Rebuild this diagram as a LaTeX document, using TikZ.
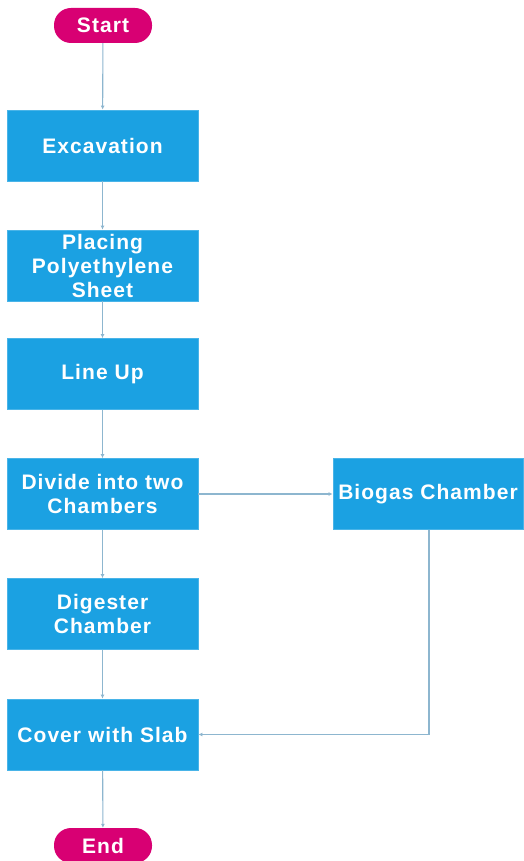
\documentclass[tikz,border=0pt]{standalone}
\usepackage{fontspec}
\setmainfont{Liberation Sans}
\usetikzlibrary{arrows.meta}
\definecolor{boxblue}{HTML}{1BA1E2}
\definecolor{pillpink}{HTML}{D80073}
\definecolor{linecol}{HTML}{8DB6CF}
\begin{document}
\begin{tikzpicture}[x=1pt,y=-1pt,
  stepbox/.style={fill=boxblue, draw=boxblue!80!white, line width=0.8pt, minimum width=191pt, minimum height=71pt, text=white, font=\fontsize{21}{24}\selectfont\bfseries\addfontfeature{LetterSpace=5}, align=center, inner sep=0pt},
  pill/.style={fill=pillpink, rounded corners=17pt, minimum width=98pt, minimum height=35pt, text=white, font=\fontsize{21}{24}\selectfont\bfseries\addfontfeature{LetterSpace=5}, inner sep=0pt},
  conn/.style={draw=linecol, line width=1.1pt, -{Latex[length=4pt,width=4pt]}}]
\useasboundingbox (0,0) rectangle (523,861);
\node[pill] (start) at (103,25.5) {Start};
\node[stepbox] (exc) at (102.5,145.5) {Excavation};
\node[stepbox] (place) at (102.5,265.5) {Placing\\Polyethylene\\Sheet};
\node[stepbox] (line) at (102.5,374) {Line Up};
\node[stepbox] (div) at (102.5,494) {Divide into two\\Chambers};
\node[stepbox, minimum width=190pt] (bio) at (428,494) {Biogas Chamber};
\node[stepbox] (dig) at (102.5,614) {Digester\\Chamber};
\node[stepbox] (cov) at (102.5,734.5) {Cover with Slab};
\node[pill] (end) at (103,845.5) {End};
\draw[conn] (start) -- (exc);
\draw[conn] (exc) -- (place);
\draw[conn] (place) -- (line);
\draw[conn] (line) -- (div);
\draw[conn] (div) -- (bio);
\draw[conn] (div) -- (dig);
\draw[conn] (dig) -- (cov);
\draw[conn] (bio.south -| 429,0) |- (cov.east);
\draw[conn] (cov) -- (end);
\end{tikzpicture}
\end{document}
